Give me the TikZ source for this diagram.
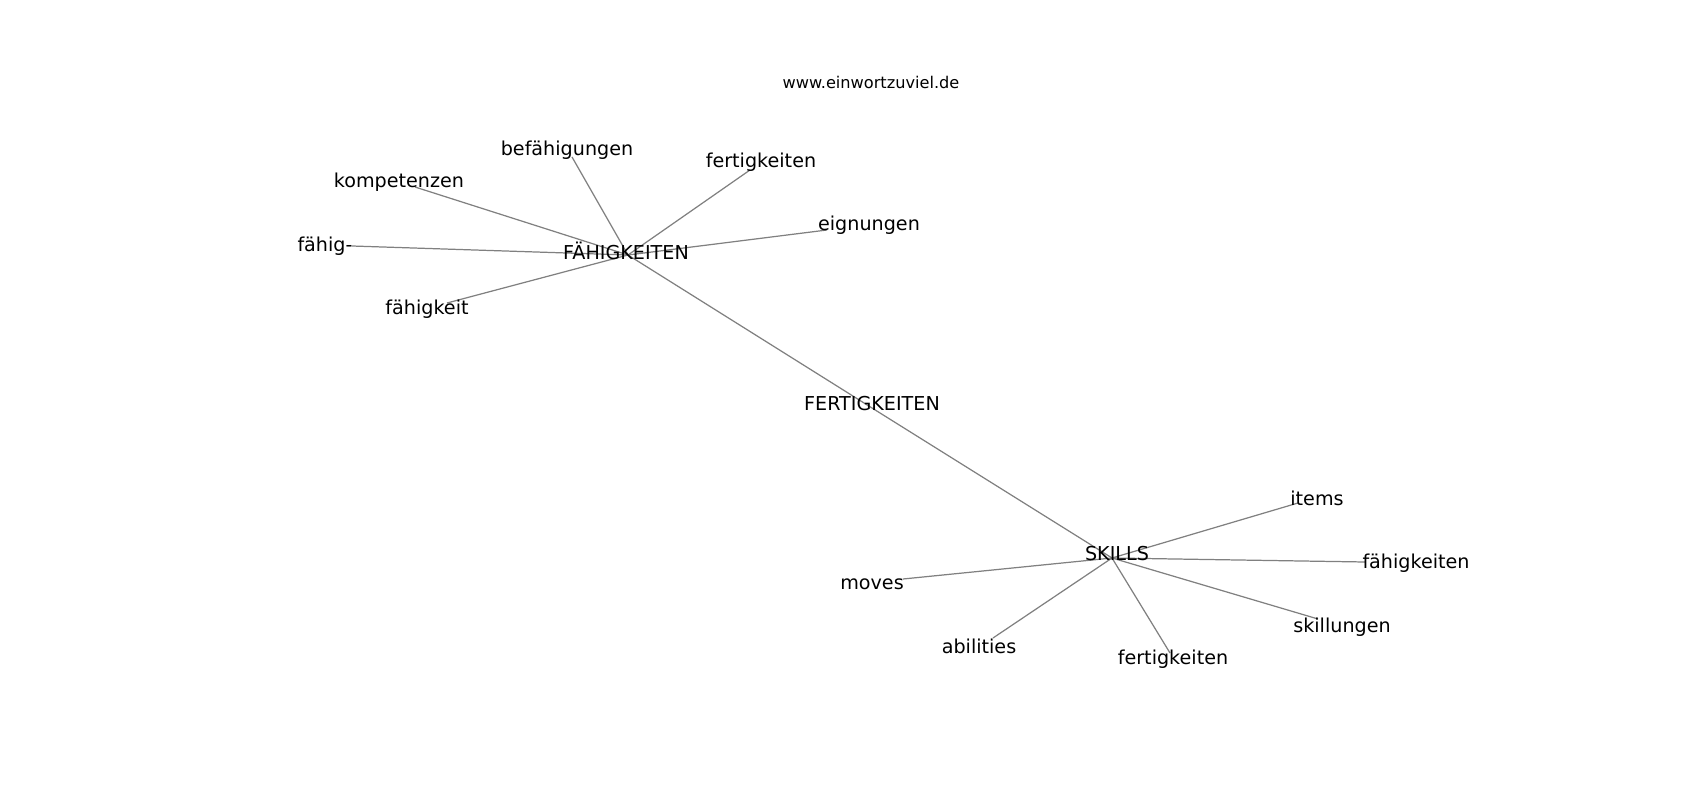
\documentclass[tikz,border=0pt]{standalone}
\usepackage{fontspec}
\setmainfont{DejaVu Sans}
\usepackage{tikz}
\begin{document}
\begin{tikzpicture}[x=0.02cm,y=-0.02cm]
    \tikzstyle{edge}=[draw,line width = .7pt,-,black!50]
    \tikzstyle{word}=[inner sep=0pt,font=\fontsize{10.9}{13}\selectfont]
    \tikzstyle{site}=[inner sep=0pt,font=\fontsize{9.2}{11}\selectfont]
    \useasboundingbox (0,0) rectangle (1700,800);
    % vertices
    \coordinate (f) at (628,255);
    \coordinate (m) at (872,408);
    \coordinate (s) at (1112,558);
    \coordinate (fbef) at (572,157);
    \coordinate (ffer) at (750,170);
    \coordinate (feig) at (827,230);
    \coordinate (fkom) at (415,187);
    \coordinate (fhig) at (352,246);
    \coordinate (fkei) at (447,303);
    \coordinate (site) at (1298,503);
    \coordinate (sfae) at (1365,562);
    \coordinate (sskl) at (1318,619);
    \coordinate (sfer) at (1170,653);
    \coordinate (sabi) at (993,638);
    \coordinate (smov) at (903,579);
    % edges
    \draw[edge] (f) -- (m);
    \draw[edge] (m) -- (s);
    \foreach \v in {fbef,ffer,feig,fkom,fhig,fkei}
        \draw[edge] (f) -- (\v);
    \foreach \v in {site,sfae,sskl,sfer,sabi,smov}
        \draw[edge] (s) -- (\v);
    % labels
    \node[site] (url) at (871,82) {www.einwortzuviel.de};
    \node[word] (lf) at (626,251) {FÄHIGKEITEN};
    \node[word] (lm) at (872,404) {FERTIGKEITEN};
    \node[word] (ls) at (1117,554) {SKILLS};
    \node[word] (lfbef) at (567,150) {befähigungen};
    \node[word] (lffer) at (761,162) {fertigkeiten};
    \node[word] (lfeig) at (869,225) {eignungen};
    \node[word] (lfkom) at (399,182) {kompetenzen};
    \node[word] (lfhig) at (325,246) {fähig-};
    \node[word] (lfkei) at (427,309) {fähigkeit};
    \node[word] (lsite) at (1317,498) {items};
    \node[word] (lsfae) at (1416,563) {fähigkeiten};
    \node[word] (lsskl) at (1342,627) {skillungen};
    \node[word] (lsfer) at (1173,659) {fertigkeiten};
    \node[word] (lsabi) at (979,646) {abilities};
    \node[word] (lsmov) at (872,584) {moves};
\end{tikzpicture}
\end{document}
